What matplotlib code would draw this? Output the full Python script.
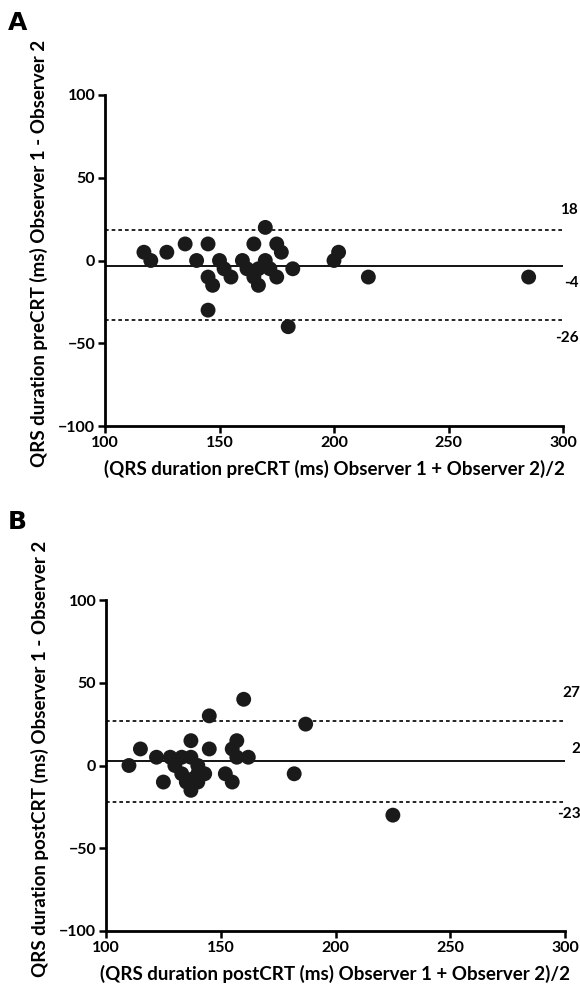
#!/usr/bin/env python3
# Bland-Altman plots of QRS duration agreement between two observers,
# before (A) and after (B) CRT.

import matplotlib
matplotlib.use('Agg')
import matplotlib.pyplot as plt

# ── DATA ─────────────────────────────────────────────────
pre_mean = [117, 120, 127, 135, 140, 145, 145, 147, 145, 150, 152, 155, 160, 162,
            165, 165, 167, 170, 170, 167, 172, 175, 177, 175, 182, 200, 202, 215,
            180, 285]
pre_diff = [5, 0, 5, 10, 0, 10, -10, -15, -30, 0, -5, -10, 0, -5,
            10, -10, -15, 20, 0, -5, -5, 10, 5, -10, -5, 0, 5, -10,
            -40, -10]
pre_lines = [18.5, -3.5, -36]          # upper LoA, bias, lower LoA (as drawn)
pre_labels = ['18', '-4', '-26']

post_mean = [110, 115, 122, 125, 128, 130, 133, 133, 135, 137, 137, 137, 140, 140,
             143, 145, 145, 152, 155, 155, 157, 157, 160, 162, 182, 187, 225,
             140, 138]
post_diff = [0, 10, 5, -10, 5, 0, 5, -5, -10, 15, 5, -15, 0, -10,
             -5, 30, 10, -5, -10, 10, 15, 5, 40, 5, -5, 25, -30,
             -5, -8]
post_lines = [27, 3, -22]
post_labels = ['27', '2', '-23']

x_ticks = [100, 150, 200, 250, 300]
y_ticks = [-100, -50, 0, 50, 100]
# ─────────────────────────────────────────────────────────

FONT = 'Lato'
plt.rcParams['font.family'] = [FONT, 'DejaVu Sans']
plt.rcParams['font.weight'] = 'bold'

fig = plt.figure(figsize=(5.8, 9.94), dpi=100)
W, H = 580, 994


def px_axes(left, top, right, bottom):
    return fig.add_axes([left / W, 1 - bottom / H, (right - left) / W, (bottom - top) / H])


def bland_altman(ax, xs, ys, lines, labels, label_offsets, xlabel, ylabel):
    ax.scatter(xs, ys, s=115, color='#1a1a1a', edgecolors='none', zorder=3, clip_on=False)
    upper, bias, lower = lines
    ax.axhline(bias, color='black', linewidth=1.3, zorder=2)
    for v in (upper, lower):
        ax.axhline(v, color='black', linewidth=1.2, linestyle=(0, (2.2, 1.8)), zorder=2)
    for v, lab, off in zip(lines, labels, label_offsets):
        ax.annotate(lab, xy=(1, v), xycoords=('axes fraction', 'data'),
                    xytext=(11, off), textcoords='offset points',
                    ha='right', va='center', fontsize=11, fontweight='bold')

    ax.set_xlim(100, 300)
    ax.set_ylim(-100, 100)
    ax.set_xticks(x_ticks)
    ax.set_yticks(y_ticks)
    for s in ('top', 'right'):
        ax.spines[s].set_visible(False)
    for s in ('left', 'bottom'):
        ax.spines[s].set_linewidth(2.0)
    ax.tick_params(width=1.8, length=5, labelsize=11.5, pad=2)
    for t in ax.get_xticklabels() + ax.get_yticklabels():
        t.set_fontweight('bold')
    ax.set_xlabel(xlabel, fontsize=13.5, fontweight='bold', labelpad=7)
    ax.set_ylabel(ylabel, fontsize=13.5, fontweight='bold')
    ax.yaxis.set_label_coords(-0.125, 0.52)


ax_a = px_axes(105, 95, 563, 426)
bland_altman(ax_a, pre_mean, pre_diff, pre_lines, pre_labels, (14, -12, -13),
             '(QRS duration preCRT (ms) Observer 1 + Observer 2)/2',
             'QRS duration preCRT (ms) Observer 1 - Observer 2')

ax_b = px_axes(106, 600, 565, 931)
bland_altman(ax_b, post_mean, post_diff, post_lines, post_labels, (20, 8, -9),
             '(QRS duration postCRT (ms) Observer 1 + Observer 2)/2',
             'QRS duration postCRT (ms) Observer 1 - Observer 2')

fig.text(8 / W, 1 - 23 / H, 'A', fontsize=18, fontweight='bold', va='center', ha='left',
         family='DejaVu Sans')
fig.text(8 / W, 1 - 522 / H, 'B', fontsize=18, fontweight='bold', va='center', ha='left',
         family='DejaVu Sans')

fig.savefig('out.png', dpi=100)
plt.close(fig)
